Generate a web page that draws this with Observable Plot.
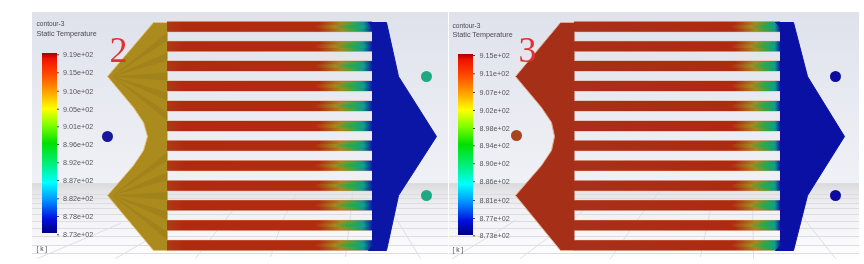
<!DOCTYPE html>
<html><head><meta charset="utf-8">
<script src="https://cdn.jsdelivr.net/npm/d3@7"></script>
<script src="https://cdn.jsdelivr.net/npm/@observablehq/plot@0.6"></script>
<style>html,body{margin:0;padding:0;background:#fff;overflow:hidden}svg{display:block;filter:blur(0.55px)}</style>
</head><body><div id="chart"></div>
<script>
// Geometry (image units)
const panelSpans = [[32,448],[449,859]];
const panelY = [12,259];
const bgStops = [[0,"#dfe2eb"],[0.35,"#e8eaf1"],[0.69,"#f0f1f6"],[0.695,"#dadadc"],[0.73,"#e6e6e8"],[0.8,"#f1f1f3"],[0.93,"#f9f9fb"],[1,"#ffffff"]];
const channelY = [26.7,46.3,66,86,106,126,145.7,165.7,185.7,205.3,225.3,245.3];
const channelSpanL = [167,372], channelSpanR = [574,780];
const channelH = 10, channelEdgeH = 10.8, channelCoreH = 3.5;
const floorY = [194,198,203,208,214,221,228,236,245,253];
const floorDiagonals = [
 [[37,258],[120,223]],[[115,258],[172,225]],[[195,258],[215,232],[240,200]],[[270,256],[282,220],[295,195]],
 [[345,256],[350,215],[352,192]],[[420,258],[400,225],[382,197]],
 [[452,258],[515,220]],[[520,258],[590,205]],[[610,258],[640,215],[660,190]],[[700,256],[712,200]],[[753,258],[752,200]],[[835,258],[805,220],[790,198]]
];
const inletL = [[153,22],[167,22],[167,250],[153,250],[107,195],[133,165],[143,150],[147,136],[143,122],[133,107],[107,76]];
const inletR = [[560,22],[574,22],[574,250],[560,250],[515,195],[541,165],[551,150],[554,136],[551,122],[541,107],[515,76]];
const inletEdgeL = [[167,22],[153,22],[107,76],[133,107],[143,122],[147,136],[143,150],[133,165],[107,195],[153,250],[167,250]];
const inletEdgeR = [[574,22],[560,22],[515,76],[541,107],[551,122],[554,136],[551,150],[541,165],[515,195],[560,250],[574,250]];
const outletL = [[368,22],[386,22],[398,76],[436,136],[398,195],[386,250],[368,250],[372,245],[372,28]];
const outletR = [[775,22],[793,22],[807,76],[844,136],[807,195],[793,250],[775,250],[780,245],[780,28]];
const streakTips = [[112,76],[112,195]];
const streakTargets = [[36,56,76,96,116],[155.7,175.7,195.5,215.3,235.3]];
const dots = [
 {x:107,y:136,c:"#15189e"},{x:426,y:76,c:"#1ea884"},{x:426,y:195,c:"#1ea884"},
 {x:516,y:135,c:"#a8451f"},{x:835,y:76,c:"#0c0c9e"},{x:835,y:195,c:"#0c0c9e"}
];
const labelsL = ["9.19e+02","9.15e+02","9.10e+02","9.05e+02","9.01e+02","8.96e+02","8.92e+02","8.87e+02","8.82e+02","8.78e+02","8.73e+02"];
const labelsR = ["9.15e+02","9.11e+02","9.07e+02","9.02e+02","8.98e+02","8.94e+02","8.90e+02","8.86e+02","8.81e+02","8.77e+02","8.73e+02"];
const labelYL = [54.3,72.3,90.7,108.7,126.3,144,162.3,180,198.3,216,234.3];
const labelYR = [55,73.3,92,110,128,145.3,163.3,181.3,200,218,235.3];
const barStops = [[0,"#a00000"],[0.03,"#f01000"],[0.12,"#ff4a00"],[0.22,"#ffa500"],[0.31,"#ffff00"],[0.4,"#80ff00"],[0.5,"#00e000"],[0.62,"#00f080"],[0.72,"#00ffff"],[0.82,"#0090ff"],[0.92,"#0010e0"],[1,"#000080"]];
const chanStopsL = [[0,"#ae3a16"],[0.08,"#b02a10"],[0.74,"#b02c0f"],[0.85,"#a5881f"],[0.905,"#3fa545"],[0.955,"#0f9a8c"],[1,"#0a20a8"]];
const chanCoreL = [[0,"#ae3a16"],[0.08,"#b02a10"],[0.72,"#b02c0f"],[0.82,"#a5881f"],[0.89,"#2ca84a"],[0.96,"#0fa08a"],[1,"#0a20a8"]];
const chanStopsR = [[0,"#a8301a"],[0.78,"#ae2a10"],[0.88,"#a5881f"],[0.937,"#30a548"],[0.975,"#0f9a8c"],[1,"#0a20a8"]];
const chanCoreR = [[0,"#a8301a"],[0.76,"#ae2a10"],[0.86,"#a5881f"],[0.92,"#2ca84a"],[0.975,"#0fa08a"],[1,"#0a20a8"]];
const gradients = {bg:[bgStops,true],bar:[barStops,true],chL:[chanStopsL,false],coreL:[chanCoreL,false],chR:[chanStopsR,false],coreR:[chanCoreR,false]};

const bgRects = panelSpans.map(([x1,x2]) => ({x1,x2,y1:panelY[0],y2:panelY[1]}));
const floorLines = panelSpans.flatMap(([x1,x2]) => floorY.map(y => ({x1,x2,y})));
const diagPts = floorDiagonals.flatMap((pts,k) => pts.map(([x,y]) => ({x,y,k})));
const bands = (s,h) => channelY.map(y => ({x1:s[0],x2:s[1],y1:y-h/2,y2:y+h/2}));
const streaks = streakTips.flatMap(([tx,ty],t) => streakTargets[t].flatMap((yy,i) => [
  {x:tx,y:ty,k:t*10+i},{x:167,y:yy-4,k:t*10+i},{x:167,y:yy+4,k:t*10+i}]));
const poly = (pts,fill,stroke) => Plot.line(pts,{x:d=>d[0],y:d=>d[1],fill,stroke,strokeWidth:1});
const rects = (rows,fill) => Plot.rect(rows,{x1:"x1",x2:"x2",y1:"y1",y2:"y2",fill});
const txt = (x,y,t,size) => Plot.text([t],{x:()=>x,y:()=>y,text:d=>d,textAnchor:"start",fontSize:size,fontFamily:"Liberation Sans",fill:"#4a4a50"});

const defsMark = () => {
  const ns = "http://www.w3.org/2000/svg";
  const defs = document.createElementNS(ns,"defs");
  for (const [id,[stops,vertical]] of Object.entries(gradients)) {
    const g = document.createElementNS(ns,"linearGradient");
    g.setAttribute("id",id);
    g.setAttribute("x1","0");g.setAttribute("y1","0");
    g.setAttribute("x2",vertical?"0":"1");g.setAttribute("y2",vertical?"1":"0");
    for (const [o,c] of stops){const s=document.createElementNS(ns,"stop");s.setAttribute("offset",o);s.setAttribute("stop-color",c);g.appendChild(s);}
    defs.appendChild(g);
  }
  return defs;
};

const chart = Plot.plot({
  width:864,height:264,margin:0,
  x:{domain:[0,864],range:[0,864],axis:null},
  y:{domain:[0,264],range:[0,264],axis:null},
  style:{background:"#ffffff"},
  marks:[
    defsMark,
    rects(bgRects,"url(#bg)"),
    Plot.ruleY(floorLines,{x1:"x1",x2:"x2",y:"y",stroke:"#dcdde0",strokeWidth:1}),
    Plot.line(diagPts,{x:"x",y:"y",z:"k",stroke:"#dedfe2",strokeWidth:1}),
    poly(inletL,"#ab8b1d","none"),
    Plot.line(streaks,{x:"x",y:"y",z:"k",fill:"#8c6a16",fillOpacity:0.28,stroke:"none"}),
    poly(inletEdgeL,"none","#e6c070"),
    poly(inletR,"#a62f18","none"),
    poly(inletEdgeR,"none","#eca488"),
    rects(bands(channelSpanL,channelEdgeH),"#e09c80"),
    rects(bands(channelSpanR,channelEdgeH),"#e09c80"),
    rects(bands(channelSpanL,channelH),"url(#chL)"),
    rects(bands(channelSpanL,channelCoreH),"url(#coreL)"),
    rects(bands(channelSpanR,channelH),"url(#chR)"),
    rects(bands(channelSpanR,channelCoreH),"url(#coreR)"),
    poly(outletL,"#0b16a6","#0b16a6"),
    poly(outletR,"#0b10a4","#0b10a4"),
    Plot.dot(dots,{x:"x",y:"y",r:5.5,fill:"c"}),
    Plot.rect([[42,57,53,233]],{x1:d=>d[0],x2:d=>d[1],y1:d=>d[2],y2:d=>d[3],fill:"url(#bar)"}),
    Plot.rect([[458,473,54,235]],{x1:d=>d[0],x2:d=>d[1],y1:d=>d[2],y2:d=>d[3],fill:"url(#bar)"}),
    Plot.ruleY(labelYL,{x1:57,x2:59,y:d=>d,stroke:"#444"}),
    Plot.ruleY(labelYR,{x1:473,x2:475,y:d=>d,stroke:"#444"}),
    Plot.text(labelsL,{x:()=>62.5,y:(d,i)=>labelYL[i],text:d=>d,textAnchor:"start",fontSize:7.2,fontFamily:"Liberation Sans",fill:"#55555c"}),
    Plot.text(labelsR,{x:()=>479,y:(d,i)=>labelYR[i],text:d=>d,textAnchor:"start",fontSize:7.2,fontFamily:"Liberation Sans",fill:"#55555c"}),
    txt(36,23.5,"contour-3",6.6),txt(36,33,"Static Temperature",7.2),txt(36,248,"[ k ]",6.6),
    txt(452,25,"contour-3",6.6),txt(452,34.5,"Static Temperature",7.2),txt(452,249,"[ k ]",6.6),
    Plot.text(["2"],{x:()=>118,y:()=>50,text:d=>d,fontSize:36,fontFamily:"Liberation Serif",fill:"#e2312f"}),
    Plot.text(["3"],{x:()=>527,y:()=>50,text:d=>d,fontSize:36,fontFamily:"Liberation Serif",fill:"#e2312f"})
  ]
});
document.getElementById("chart").append(chart);
</script></body></html>
